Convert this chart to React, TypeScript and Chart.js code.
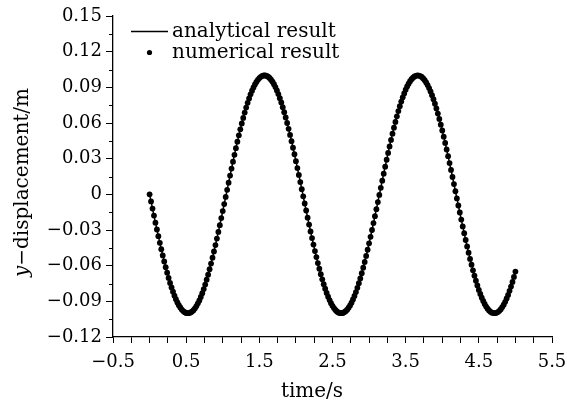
import React, { useEffect, useRef } from 'react';
import { Chart, registerables } from 'chart.js';

Chart.register(...registerables);

// time samples (s)
const TIME = [
  0, 0.02, 0.04, 0.06, 0.08, 0.1, 0.12, 0.14, 0.16, 0.18,
  0.2, 0.22, 0.24, 0.26, 0.28, 0.3, 0.32, 0.34, 0.36, 0.38,
  0.4, 0.42, 0.44, 0.46, 0.48, 0.5, 0.52, 0.54, 0.56, 0.58,
  0.6, 0.62, 0.64, 0.66, 0.68, 0.7, 0.72, 0.74, 0.76, 0.78,
  0.8, 0.82, 0.84, 0.86, 0.88, 0.9, 0.92, 0.94, 0.96, 0.98,
  1.0, 1.02, 1.04, 1.06, 1.08, 1.1, 1.12, 1.14, 1.16, 1.18,
  1.2, 1.22, 1.24, 1.26, 1.28, 1.3, 1.32, 1.34, 1.36, 1.38,
  1.4, 1.42, 1.44, 1.46, 1.48, 1.5, 1.52, 1.54, 1.56, 1.58,
  1.6, 1.62, 1.64, 1.66, 1.68, 1.7, 1.72, 1.74, 1.76, 1.78,
  1.8, 1.82, 1.84, 1.86, 1.88, 1.9, 1.92, 1.94, 1.96, 1.98,
  2.0, 2.02, 2.04, 2.06, 2.08, 2.1, 2.12, 2.14, 2.16, 2.18,
  2.2, 2.22, 2.24, 2.26, 2.28, 2.3, 2.32, 2.34, 2.36, 2.38,
  2.4, 2.42, 2.44, 2.46, 2.48, 2.5, 2.52, 2.54, 2.56, 2.58,
  2.6, 2.62, 2.64, 2.66, 2.68, 2.7, 2.72, 2.74, 2.76, 2.78,
  2.8, 2.82, 2.84, 2.86, 2.88, 2.9, 2.92, 2.94, 2.96, 2.98,
  3.0, 3.02, 3.04, 3.06, 3.08, 3.1, 3.12, 3.14, 3.16, 3.18,
  3.2, 3.22, 3.24, 3.26, 3.28, 3.3, 3.32, 3.34, 3.36, 3.38,
  3.4, 3.42, 3.44, 3.46, 3.48, 3.5, 3.52, 3.54, 3.56, 3.58,
  3.6, 3.62, 3.64, 3.66, 3.68, 3.7, 3.72, 3.74, 3.76, 3.78,
  3.8, 3.82, 3.84, 3.86, 3.88, 3.9, 3.92, 3.94, 3.96, 3.98,
  4.0, 4.02, 4.04, 4.06, 4.08, 4.1, 4.12, 4.14, 4.16, 4.18,
  4.2, 4.22, 4.24, 4.26, 4.28, 4.3, 4.32, 4.34, 4.36, 4.38,
  4.4, 4.42, 4.44, 4.46, 4.48, 4.5, 4.52, 4.54, 4.56, 4.58,
  4.6, 4.62, 4.64, 4.66, 4.68, 4.7, 4.72, 4.74, 4.76, 4.78,
  4.8, 4.82, 4.84, 4.86, 4.88, 4.9, 4.92, 4.94, 4.96, 4.98,
  5.0,
];

// y-displacement (m)
const Y_DISP = [
  0, -0.0060, -0.0120, -0.0179, -0.0238, -0.0296, -0.0352, -0.0408, -0.0462, -0.0514,
  -0.0565, -0.0613, -0.0659, -0.0703, -0.0745, -0.0783, -0.0819, -0.0852, -0.0882, -0.0909,
  -0.0932, -0.0952, -0.0969, -0.0982, -0.0992, -0.0998, -0.1000, -0.0999, -0.0994, -0.0986,
  -0.0974, -0.0959, -0.0940, -0.0917, -0.0892, -0.0863, -0.0831, -0.0797, -0.0759, -0.0718,
  -0.0676, -0.0630, -0.0582, -0.0533, -0.0481, -0.0427, -0.0372, -0.0316, -0.0259, -0.0200,
  -0.0141, -0.0082, -0.0022, 0.0038, 0.0098, 0.0158, 0.0217, 0.0275, 0.0332, 0.0388,
  0.0443, 0.0496, 0.0547, 0.0596, 0.0643, 0.0688, 0.0730, 0.0770, 0.0807, 0.0841,
  0.0872, 0.0899, 0.0924, 0.0945, 0.0963, 0.0978, 0.0988, 0.0996, 0.1000, 0.1000,
  0.0996, 0.0989, 0.0979, 0.0964, 0.0947, 0.0926, 0.0902, 0.0874, 0.0843, 0.0809,
  0.0773, 0.0733, 0.0691, 0.0647, 0.0600, 0.0551, 0.0500, 0.0447, 0.0392, 0.0337,
  0.0279, 0.0221, 0.0163, 0.0103, 0.0043, -0.0017, -0.0077, -0.0136, -0.0196, -0.0254,
  -0.0312, -0.0368, -0.0423, -0.0477, -0.0528, -0.0578, -0.0626, -0.0672, -0.0715, -0.0756,
  -0.0794, -0.0829, -0.0861, -0.0889, -0.0916, -0.0938, -0.0957, -0.0973, -0.0985, -0.0994,
  -0.0999, -0.1000, -0.0998, -0.0992, -0.0983, -0.0970, -0.0954, -0.0934, -0.0911, -0.0884,
  -0.0855, -0.0822, -0.0786, -0.0748, -0.0707, -0.0663, -0.0617, -0.0569, -0.0518, -0.0466,
  -0.0412, -0.0357, -0.0300, -0.0242, -0.0184, -0.0125, -0.0065, -0.0005, 0.0055, 0.0115,
  0.0174, 0.0233, 0.0291, 0.0348, 0.0403, 0.0458, 0.0510, 0.0561, 0.0609, 0.0656,
  0.0700, 0.0741, 0.0780, 0.0816, 0.0849, 0.0880, 0.0907, 0.0930, 0.0951, 0.0968,
  0.0981, 0.0991, 0.0997, 0.1000, 0.0999, 0.0995, 0.0987, 0.0975, 0.0960, 0.0941,
  0.0919, 0.0894, 0.0866, 0.0834, 0.0800, 0.0762, 0.0722, 0.0679, 0.0634, 0.0586,
  0.0537, 0.0485, 0.0432, 0.0377, 0.0321, 0.0263, 0.0205, 0.0146, 0.0086, 0.0026,
  -0.0034, -0.0094, -0.0153, -0.0212, -0.0270, -0.0327, -0.0384, -0.0438, -0.0491, -0.0543,
  -0.0592, -0.0639, -0.0684, -0.0727, -0.0767, -0.0804, -0.0838, -0.0869, -0.0897, -0.0922,
  -0.0944, -0.0962, -0.0977, -0.0988, -0.0995, -0.0999, -0.1000, -0.0997, -0.0990, -0.0980,
  -0.0966, -0.0948, -0.0928, -0.0904, -0.0876, -0.0846, -0.0812, -0.0776, -0.0737, -0.0695,
  -0.0650,
];

const X_MAJOR = [-0.5, 0.5, 1.5, 2.5, 3.5, 4.5, 5.5];
const X_LABELS = ['\u22120.5', '0.5', '1.5', '2.5', '3.5', '4.5', '5.5'];
const X_TICKS = [
  -0.5, -0.25, 0, 0.25, 0.5, 0.75, 1, 1.25, 1.5, 1.75, 2, 2.25, 2.5,
  2.75, 3, 3.25, 3.5, 3.75, 4, 4.25, 4.5, 4.75, 5, 5.25, 5.5,
];

const Y_MAJOR = [-0.12, -0.09, -0.06, -0.03, 0, 0.03, 0.06, 0.09, 0.12, 0.15];
const Y_LABELS = ['\u22120.12', '\u22120.09', '\u22120.06', '\u22120.03', '0', '0.03', '0.06', '0.09', '0.12', '0.15'];
const Y_MINOR = [-0.105, -0.075, -0.045, -0.015, 0.015, 0.045, 0.075, 0.105, 0.135];

const SERIES_NAMES = ['analytical result', 'numerical result'];
const X_TITLE = 'time/s';
const Y_TITLE_ITALIC = 'y';
const Y_TITLE_REST = '\u2212displacement/m';

const FONT_FAMILY = '"DejaVu Serif", "Liberation Serif", serif';

const findIndex = (arr: number[], v: number) => arr.findIndex((m) => Math.abs(m - v) < 1e-9);

const extrasPlugin = {
  id: 'extras',
  afterDraw(chart: any) {
    const ctx = chart.ctx as CanvasRenderingContext2D;
    const y = chart.scales.y;
    const area = chart.chartArea;
    ctx.save();
    // y minor ticks
    ctx.strokeStyle = '#000';
    ctx.lineWidth = 1;
    Y_MINOR.forEach((v) => {
      const py = Math.round(y.getPixelForValue(v)) + 0.5;
      ctx.beginPath();
      ctx.moveTo(area.left - 4, py);
      ctx.lineTo(area.left, py);
      ctx.stroke();
    });

    // legend
    const lx0 = area.left + 18;
    const lx1 = area.left + 55;
    const ly0 = area.top + 15.5;
    const ly1 = area.top + 36.5;
    ctx.lineWidth = 1.5;
    ctx.beginPath();
    ctx.moveTo(lx0, ly0);
    ctx.lineTo(lx1, ly0);
    ctx.stroke();
    ctx.fillStyle = '#000';
    ctx.beginPath();
    ctx.arc((lx0 + lx1) / 2, ly1, 2.6, 0, Math.PI * 2);
    ctx.fill();
    ctx.font = `20px ${FONT_FAMILY}`;
    ctx.textAlign = 'left';
    ctx.textBaseline = 'alphabetic';
    ctx.fillText(SERIES_NAMES[0], lx1 + 4, ly0 + 5);
    ctx.fillText(SERIES_NAMES[1], lx1 + 4, ly1 + 5);

    // x title
    ctx.font = `20px ${FONT_FAMILY}`;
    ctx.textAlign = 'center';
    ctx.textBaseline = 'alphabetic';
    ctx.fillText(X_TITLE, 312, 397);

    // y title (rotated)
    const italic = `italic 20px ${FONT_FAMILY}`;
    const normal = `20px ${FONT_FAMILY}`;
    ctx.font = italic;
    const w1 = ctx.measureText(Y_TITLE_ITALIC).width;
    ctx.font = normal;
    const w2 = ctx.measureText(Y_TITLE_REST).width;
    const total = w1 + w2;
    ctx.translate(28, 182.5);
    ctx.rotate(-Math.PI / 2);
    ctx.textAlign = 'left';
    ctx.textBaseline = 'alphabetic';
    ctx.font = italic;
    ctx.fillText(Y_TITLE_ITALIC, -total / 2, 0);
    ctx.font = normal;
    ctx.fillText(Y_TITLE_REST, -total / 2 + w1, 0);
    ctx.restore();
  },
};

export default function App() {
  const canvasRef = useRef<HTMLCanvasElement | null>(null);

  useEffect(() => {
    if (!canvasRef.current) return;
    const points = TIME.map((t, i) => ({ x: t, y: Y_DISP[i] }));
    const tickFont = { family: FONT_FAMILY, size: 18 };
    const chart = new Chart(canvasRef.current, {
      type: 'scatter',
      data: {
        datasets: [
          {
            label: SERIES_NAMES[0],
            data: points,
            showLine: true,
            borderColor: '#000',
            borderWidth: 1.5,
            pointRadius: 0,
            fill: false,
          },
          {
            label: SERIES_NAMES[1],
            data: points,
            showLine: false,
            pointRadius: 2.9,
            pointBackgroundColor: '#000',
            pointBorderWidth: 0,
            borderColor: '#000',
          },
        ],
      },
      options: {
        animation: false,
        responsive: false,
        devicePixelRatio: 1,
        layout: { padding: { top: 16, right: 15, left: 0, bottom: 0 } },
        plugins: {
          legend: { display: false },
          tooltip: { enabled: false },
        },
        scales: {
          x: {
            type: 'linear',
            min: -0.5,
            max: 5.5,
            afterBuildTicks: (s: any) => {
              s.ticks = X_TICKS.map((v) => ({ value: v }));
            },
            afterFit: (s: any) => {
              s.height = 65;
              s.paddingLeft = 0;
              s.paddingRight = 0;
            },
            ticks: {
              autoSkip: false,
              maxRotation: 0,
              minRotation: 0,
              color: '#000',
              font: tickFont,
              padding: 9,
              callback: (v: any) => {
                const i = findIndex(X_MAJOR, Number(v));
                return i >= 0 ? X_LABELS[i] : '';
              },
            },
            grid: {
              drawOnChartArea: false,
              drawTicks: true,
              tickLength: 6,
              color: '#000',
              tickColor: '#000',
              lineWidth: 1,
            },
            border: { display: true, color: '#000', width: 1.3 },
          },
          y: {
            type: 'linear',
            min: -0.12,
            max: 0.15,
            afterBuildTicks: (s: any) => {
              s.ticks = Y_MAJOR.map((v) => ({ value: v }));
            },
            afterFit: (s: any) => {
              s.width = 113;
              s.paddingTop = 0;
              s.paddingBottom = 0;
            },
            ticks: {
              autoSkip: false,
              color: '#000',
              font: tickFont,
              padding: 4,
              callback: (v: any) => {
                const i = findIndex(Y_MAJOR, Number(v));
                return i >= 0 ? Y_LABELS[i] : '';
              },
            },
            grid: {
              drawOnChartArea: false,
              drawTicks: true,
              tickLength: 7,
              color: '#000',
              tickColor: '#000',
              lineWidth: 1,
            },
            border: { display: true, color: '#000', width: 1.3 },
          },
        },
      },
      plugins: [extrasPlugin],
    } as any);
    return () => chart.destroy();
  }, []);

  return (
    <div style={{ position: 'absolute', left: 0, top: 0, width: 567, height: 402, background: '#fff' }}>
      <canvas ref={canvasRef} width={567} height={402} style={{ width: 567, height: 402, display: 'block' }} />
    </div>
  );
}
